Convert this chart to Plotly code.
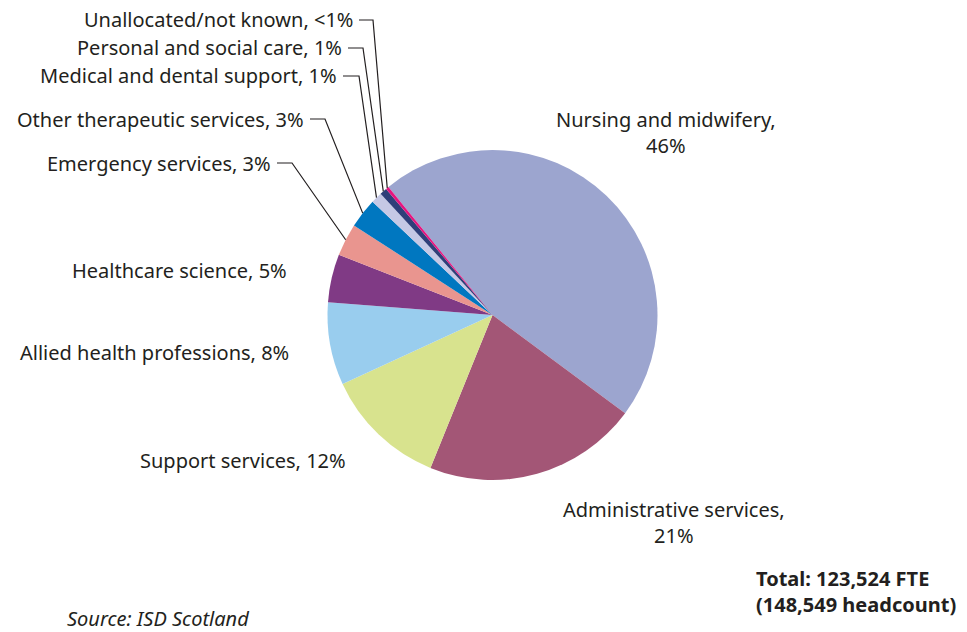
import math
import plotly.graph_objects as go

# Workforce by staff group (share of FTE, %), in clockwise order from the top
categories = [
    "Nursing and midwifery",
    "Administrative services",
    "Support services",
    "Allied health professions",
    "Healthcare science",
    "Emergency services",
    "Other therapeutic services",
    "Medical and dental support",
    "Personal and social care",
    "Unallocated/not known",
]
shares = [46.0, 21.0, 12.0, 8.1, 4.7, 3.2, 2.9, 1.1, 0.7, 0.3]
pct_labels = ["46%", "21%", "12%", "8%", "5%", "3%", "3%", "1%", "1%", "<1%"]
colors = [
    "#9ca5cf", "#a35676", "#d8e38e", "#99cdee", "#803a85",
    "#e9958f", "#0077c0", "#c5c8e5", "#2f3f79", "#e5157f",
]

total_note = "<b>Total: 123,524 FTE<br>(148,549 headcount)</b>"
source_note = "<i>Source: ISD Scotland</i>"

W, H = 967, 632
CX, CY, R = 492.5, 315, 165      # pie centre and radius in pixels
START = 320.9                    # first slice edge, degrees clockwise from 12 o'clock

FONT = "Noto Sans"
FS = 20
TXT = "#231f20"

fig = go.Figure(go.Pie(
    labels=categories,
    values=shares,
    sort=False,
    direction="clockwise",
    rotation=START - 360,
    marker=dict(colors=colors, line=dict(width=0)),
    textinfo="none",
    hoverinfo="label+percent",
    domain=dict(x=[(CX - R) / W, (CX + R) / W],
                y=[(H - CY - R) / H, (H - CY + R) / H]),
    showlegend=False,
))


def px(x):
    return x / W


def py(y):
    return 1 - y / H


# mid-angle of every slice, taken from the data
tot = sum(shares)
mids = []
acc = 0.0
for s in shares:
    mids.append(START + (acc + s / 2) / tot * 360)
    acc += s


def rim_point(i):
    a = math.radians(mids[i])
    return CX + R * math.sin(a), CY - R * math.cos(a)


annotations = []
shapes = []

# labels on the left with leader lines: (text right edge, y, elbow x)
leader = {
    "Unallocated/not known": (355, 20, 373),
    "Personal and social care": (344, 48, 363),
    "Medical and dental support": (339, 76, 359),
    "Other therapeutic services": (306, 119, 325),
    "Emergency services": (273, 163, 292),
}
# plain labels on the left: (text right edge, y)
plain_left = {
    "Healthcare science": (289, 270),
    "Allied health professions": (291, 352),
    "Support services": (348, 460),
}
# two-line labels centred on x: (centre x, y of block centre)
centred = {
    "Nursing and midwifery": (666, 132),
    "Administrative services": (674, 522),
}

for i, name in enumerate(categories):
    text = f"{name}, {pct_labels[i]}"
    if name in leader:
        xr, y, xe = leader[name]
        annotations.append(dict(x=px(xr), y=py(y), xref="paper", yref="paper",
                                text=text, showarrow=False, xanchor="right",
                                yanchor="middle"))
        rx, ry = rim_point(i)
        path = (f"M {px(xr + 4)} {py(y)} L {px(xe)} {py(y)} "
                f"L {px(rx)} {py(ry)}")
        shapes.append(dict(type="path", xref="paper", yref="paper", path=path,
                           line=dict(color="#231f20", width=1.2)))
    elif name in plain_left:
        xr, y = plain_left[name]
        annotations.append(dict(x=px(xr), y=py(y), xref="paper", yref="paper",
                                text=text, showarrow=False, xanchor="right",
                                yanchor="middle"))
    else:
        xc, y = centred[name]
        annotations.append(dict(x=px(xc), y=py(y), xref="paper", yref="paper",
                                text=f"{name},<br>{pct_labels[i]}",
                                showarrow=False, xanchor="center",
                                yanchor="middle", align="center"))

annotations.append(dict(x=px(754), y=py(591), xref="paper", yref="paper",
                        text=total_note, showarrow=False, xanchor="left",
                        yanchor="middle", align="left"))
annotations.append(dict(x=px(66), y=py(618), xref="paper", yref="paper",
                        text=source_note, showarrow=False, xanchor="left",
                        yanchor="middle", align="left", borderpad=0))

fig.update_layout(
    width=W, height=H,
    margin=dict(l=0, r=0, t=0, b=0),
    paper_bgcolor="white",
    plot_bgcolor="white",
    font=dict(family=FONT, size=FS, color=TXT),
    annotations=annotations,
    shapes=shapes,
)

fig.write_html("out.html")
